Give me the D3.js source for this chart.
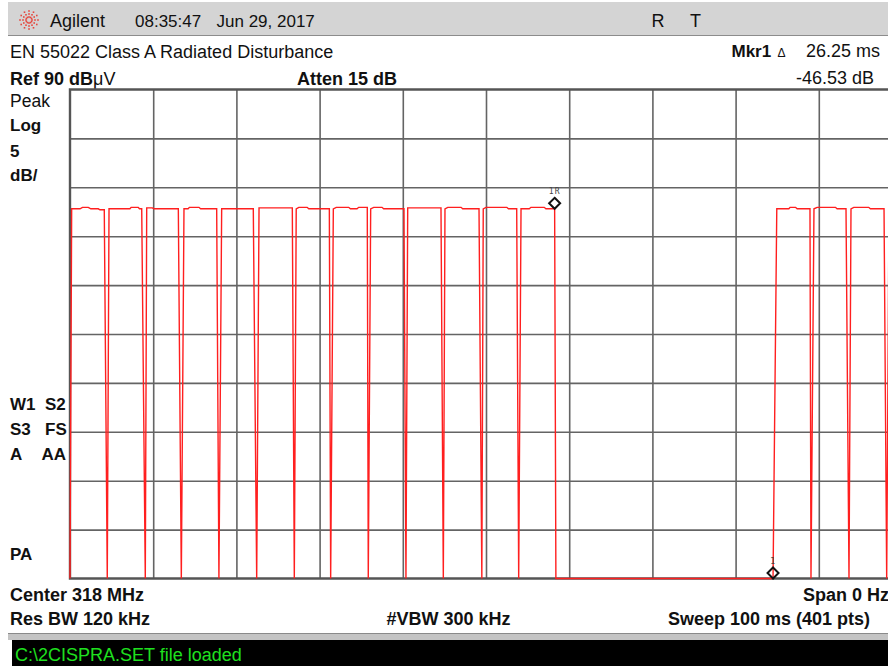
<!DOCTYPE html>
<html>
<head>
<meta charset="utf-8">
<script src="https://cdn.jsdelivr.net/npm/d3@7"></script>
<style>
  html, body { margin: 0; padding: 0; background: #ffffff; overflow: hidden; }
  svg { display: block; font-family: Arial, "Liberation Sans", sans-serif; }
</style>
</head>
<body>
<div id="chart"></div>
<script>
// ---- data ----
// trace vertices : time (ms) / level (dBuV), values below 40 are clipped at the bottom
const traceMs = [
  0, 0.2, 1.2, 1.5, 2.2, 2.5, 3.4, 3.6, 4.12, 4.48,
  4.69, 7.2, 7.35, 8.2, 8.35, 8.62, 9.05,
  9.22, 9.9, 10.1, 13.02, 13.38,
  13.7, 14.2, 14.35, 15.5, 15.7, 17.63, 17.9,
  18.23, 22.03, 22.44,
  22.72, 26.72, 26.96,
  27.19, 27.5, 28.5, 28.7, 31.17, 31.33,
  31.65, 32.0, 33.5, 33.7, 34.5, 34.7, 35.73, 35.85,
  36.14, 36.5, 37.5, 37.7, 40.14, 40.38,
  40.59, 44.59, 44.87,
  45.07, 45.4, 47.0, 47.2, 49.16, 49.5,
  49.67, 50.0, 52.5, 52.7, 53.69, 53.93,
  54.21, 55.2, 55.4, 57.0, 57.2, 58.25, 58.4,
  84.5, 84.95, 86.4, 86.55, 87.2, 87.4, 88.94, 89.06,
  89.42, 89.8, 92.0, 92.2, 93.27, 93.63,
  93.87, 94.2, 96.0, 96.2, 97.84, 98.16,
  98.44, 100
];
const traceDb = [
  31.3, 77.8, 77.8, 77.95, 77.95, 77.8, 77.8, 77.7, 77.7, 31.3,
  77.8, 77.8, 77.95, 77.95, 77.8, 77.8, 31.3,
  77.9, 77.9, 77.8, 77.8, 31.3,
  77.8, 77.8, 77.95, 77.95, 77.8, 77.8, 31.3,
  77.8, 77.8, 31.3,
  77.9, 77.9, 31.3,
  77.8, 77.95, 77.95, 77.8, 77.8, 31.3,
  77.8, 77.95, 77.95, 77.8, 77.8, 77.95, 77.95, 31.3,
  77.8, 77.95, 77.95, 77.8, 77.8, 31.3,
  77.9, 77.9, 31.3,
  77.8, 77.95, 77.95, 77.8, 77.8, 31.3,
  77.8, 77.95, 77.95, 77.8, 77.8, 31.3,
  77.8, 77.8, 77.95, 77.95, 77.8, 77.8, 31.3,
  31.3, 77.8, 77.8, 77.95, 77.95, 77.8, 77.8, 31.3,
  77.8, 77.95, 77.95, 77.8, 77.8, 31.3,
  77.8, 77.95, 77.95, 77.8, 77.8, 31.3,
  77.8, 77.8
];

// markers
const markerMs = [58.25, 84.5];
const markerDb = [77.8, 31.3];
const markerNames = ["1R", "1"];

// graticule : 10 divisions of 10 ms, 10 divisions of 5 dB from ref 90 dBuV
const timeTicks = [0, 10, 20, 30, 40, 50, 60, 70, 80, 90, 100];
const levelTicks = [40, 45, 50, 55, 60, 65, 70, 75, 80, 85, 90];

//---------------------------------------------------------------------------------------

const width = 888;
const height = 666;

const svg = d3.select("#chart")
  .append("svg")
  .attr("width", width)
  .attr("height", height)
  .attr("viewBox", [0, 0, width, height]);

// scales
const x = d3.scaleLinear().domain([0, 100]).range([70, 902]);
const y = d3.scaleLinear().domain([40, 90]).range([578.5, 89.5]).clamp(true);

// ---- title bar ----
svg.append("rect")
  .attr("x", 8).attr("y", 2).attr("width", width - 8).attr("height", 33)
  .attr("fill", "#d4d4d4");
svg.append("line")
  .attr("x1", 8).attr("x2", width).attr("y1", 35.5).attr("y2", 35.5)
  .attr("stroke", "#8c8c8c").attr("stroke-width", 1);

// agilent starburst
const star = svg.append("g").attr("transform", "translate(29,20)");
d3.range(12).forEach(i => {
  const a = i * Math.PI / 6;
  [3, 6, 9].forEach(r => {
    star.append("rect")
      .attr("x", Math.cos(a) * r - 0.8)
      .attr("y", Math.sin(a) * r - 0.8)
      .attr("width", 1.6).attr("height", 1.6)
      .attr("fill", "#e5483f");
  });
});

const header = [
  { t: "Agilent", x: 50, size: 18 },
  { t: "08:35:47", x: 135, size: 17 },
  { t: "Jun 29, 2017", x: 216.5, size: 17 },
  { t: "R", x: 651.5, size: 18 },
  { t: "T", x: 690, size: 18 }
];
svg.selectAll(".hdr")
  .data(header)
  .join("text")
  .attr("class", "hdr")
  .attr("x", d => d.x)
  .attr("y", 27)
  .attr("font-size", d => d.size + "px")
  .attr("fill", "#111")
  .text(d => d.t);

// ---- annotation texts ----
function label(t, xx, yy, size, bold, anchor) {
  return svg.append("text")
    .attr("x", xx).attr("y", yy)
    .attr("font-size", size + "px")
    .attr("font-weight", bold ? "bold" : "normal")
    .attr("text-anchor", anchor || "start")
    .attr("fill", "#111")
    .text(t);
}

label("EN 55022 Class A Radiated Disturbance", 10, 58, 18, false);
label("Mkr1", 731.5, 57, 17, true);
label("Δ", 777.5, 57, 12, false);
label("26.25 ms", 880, 57, 18, false, "end");

const ref = label("Ref 90 dB", 10, 85, 18, true);
ref.append("tspan").attr("font-weight", "normal").text("μV");
label("Atten 15 dB", 297, 85, 18, true);
label("-46.53 dB", 874, 84, 18, false, "end");

label("Peak", 10, 106.5, 17.5, false);
label("Log", 10, 130.5, 17, true);
label("5", 10, 156.5, 17, true);
label("dB/", 10, 180.5, 17, true);

label("W1", 10, 410, 17, true);
label("S2", 45, 410, 17, true);
label("S3", 10, 435, 17, true);
label("FS", 45, 435, 17, true);
label("A", 10, 460, 17, true);
label("AA", 41.5, 460, 17, true);
label("PA", 10, 560, 17, true);

label("Center 318 MHz", 10, 600.5, 18, true);
label("Span 0 Hz", 803, 601, 18, true);
label("Res BW 120 kHz", 10, 625, 18, true);
label("#VBW 300 kHz", 386.5, 625, 18, true);
label("Sweep 100 ms (401 pts)", 668, 625, 18, true);

// ---- status bar ----
svg.append("rect")
  .attr("x", 8).attr("y", 633).attr("width", width - 8).attr("height", 7)
  .attr("fill", "#c4c4c4");
svg.append("line")
  .attr("x1", 8).attr("x2", width).attr("y1", 633.5).attr("y2", 633.5)
  .attr("stroke", "#8a8a8a");
svg.append("rect")
  .attr("x", 12).attr("y", 640).attr("width", width - 12).attr("height", 26)
  .attr("fill", "#000");
svg.append("text")
  .attr("x", 15).attr("y", 661)
  .attr("font-size", "18px")
  .attr("fill", "#1fe01f")
  .text("C:\\2CISPRA.SET file loaded");

// ---- graticule ----
const plotH = y(40) - y(90);
const plotW = x(100) - x(0);

svg.append("g")
  .attr("transform", `translate(0,${y(40)})`)
  .call(d3.axisBottom(x).tickValues(timeTicks.slice(1, -1)).tickSize(-plotH).tickFormat(""))
  .call(g => g.select(".domain").remove())
  .call(g => g.selectAll("line").attr("stroke", "#646464").attr("stroke-width", 1.6));

svg.append("g")
  .attr("transform", `translate(${x(0)},0)`)
  .call(d3.axisLeft(y).tickValues(levelTicks.slice(1, -1)).tickSize(-plotW).tickFormat(""))
  .call(g => g.select(".domain").remove())
  .call(g => g.selectAll("line").attr("stroke", "#646464").attr("stroke-width", 1.6));

// frame (left, top, bottom)
svg.append("path")
  .attr("d", `M${x(100)},${y(90)}H${x(0)}V${y(40)}H${x(100)}`)
  .attr("fill", "none")
  .attr("stroke", "#555")
  .attr("stroke-width", 2.4);

// ---- trace ----
const line = d3.line()
  .x(d => x(d[0]))
  .y(d => y(d[1]));

svg.append("path")
  .datum(d3.zip(traceMs, traceDb))
  .attr("d", line)
  .attr("fill", "none")
  .attr("stroke", "#ff1f1f")
  .attr("stroke-width", 1.4)
  .attr("stroke-linejoin", "miter");

// ---- markers ----
const markers = svg.selectAll(".mkr")
  .data(d3.zip(markerMs, markerDb, markerNames))
  .join("g")
  .attr("class", "mkr")
  .attr("transform", d => `translate(${x(d[0])},${y(d[1]) - 5.5})`);

markers.append("path")
  .attr("d", "M0,-5.5L5.5,0L0,5.5L-5.5,0Z")
  .attr("fill", "none")
  .attr("stroke", "#111")
  .attr("stroke-width", 2);

markers.append("text")
  .attr("y", -9.5)
  .attr("text-anchor", "middle")
  .attr("font-size", "8px")
  .attr("font-family", "'DejaVu Sans Mono', monospace")
  .attr("letter-spacing", "1px")
  .attr("fill", "#444")
  .text(d => d[2]);
</script>
</body>
</html>
